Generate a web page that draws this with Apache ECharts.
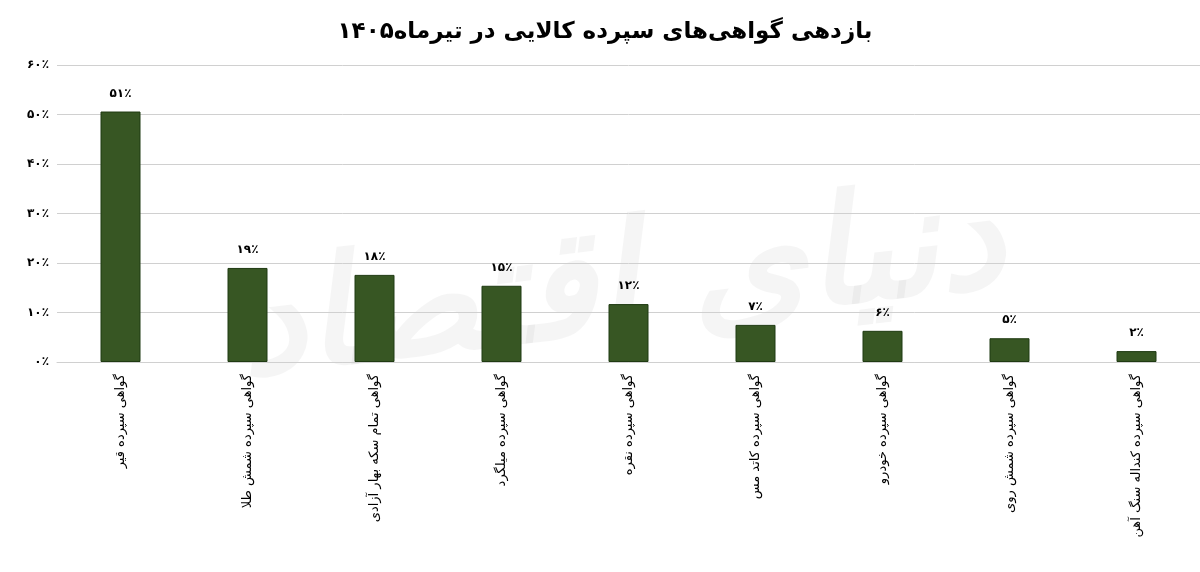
<!DOCTYPE html><html><head><meta charset="utf-8"><script src="https://cdn.jsdelivr.net/npm/echarts@6/dist/echarts.min.js"></script>
<style>html,body{margin:0;background:#fff}#c{width:1200px;height:572px}</style></head><body><div id="c"></div><script>
const categories=["گواهی سپرده قیر","گواهی سپرده شمش طلا","گواهی تمام سکه بهار آزادی","گواهی سپرده میلگرد","گواهی سپرده نقره","گواهی سپرده کاتد مس","گواهی سپرده خودرو","گواهی سپرده شمش روی","گواهی سپرده کنداله سنگ آهن"];
const values=[50.6,19,17.6,15.4,11.7,7.5,6.3,4.8,2.2];
const labels=["۵۱٪","۱۹٪","۱۸٪","۱۵٪","۱۲٪","۷٪","۶٪","۵٪","۲٪"];
const yTicks=["۰٪","۱۰٪","۲۰٪","۳۰٪","۴۰٪","۵۰٪","۶۰٪"];
const F="DejaVu Sans";
const ch=echarts.init(document.getElementById('c'));
ch.setOption({
 animation:false,
 title:{text:"بازدهی گواهی‌های سپرده کالایی در تیرماه۱۴۰۵",left:600,top:16,textAlign:'center',textStyle:{fontFamily:F,fontSize:23,fontWeight:'bold',color:'#000'}},
 graphic:[{type:'text',left:230,top:170,rotation:0.12,z:-1,style:{text:'دنیای اقتصاد',font:'italic bold 150px "DejaVu Sans"',fill:'rgba(0,0,0,0.04)'}}],
 grid:{left:57,width:1157,top:65,height:297},
 xAxis:{type:'category',data:categories,axisTick:{show:false},axisLine:{lineStyle:{color:'#d0d0d0'}},
  axisLabel:{rotate:90,interval:0,margin:12,fontFamily:F,fontSize:13,color:'#000'}},
 yAxis:{type:'value',min:0,max:60,interval:10,axisLine:{show:false},axisTick:{show:false},
  splitLine:{lineStyle:{color:'#d0d0d0'}},
  axisLabel:{fontFamily:F,fontSize:12,fontWeight:'bold',color:'#000',formatter:(v)=>yTicks[v/10]}},
 series:[{type:'bar',data:values,barWidth:40,itemStyle:{color:'#375623',borderColor:'#1f3a12',borderWidth:1},
  label:{show:true,position:'top',distance:12,fontFamily:F,fontSize:12,fontWeight:'bold',color:'#000',formatter:(p)=>labels[p.dataIndex]}}]
});
</script></body></html>
